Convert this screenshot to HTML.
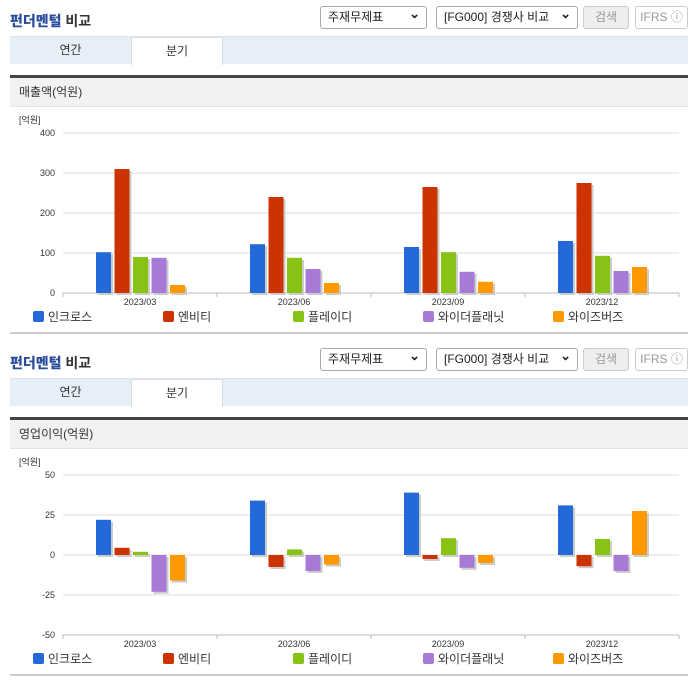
<!DOCTYPE html>
<html><head><meta charset="utf-8">
<style>
*{box-sizing:border-box;margin:0;padding:0}
body{width:696px;height:684px;background:#fff;font-family:"Liberation Sans","Noto Sans CJK KR",sans-serif;color:#333;position:relative;overflow:hidden}
.blk{position:absolute;left:0;width:696px;height:342px}
.title{position:absolute;left:10px;top:11px;font-size:14px;font-weight:bold;color:#333}
.title b{color:#2a4d9b}
.sel{position:absolute;top:6px;height:23px;border:1px solid #aaa;border-radius:3px;background:#fff;font-size:12px;line-height:21px;padding-left:7px;color:#222}
.sel:after{content:"⌄";position:absolute;right:6px;top:-4px;font-size:13px;font-weight:bold}
.btn{position:absolute;top:6px;height:23px;border:1px solid #ccc;border-radius:3px;font-size:12px;line-height:21px;text-align:center;color:#999}
.tabs{position:absolute;left:10px;top:36px;width:678px;height:28px;background:#e6eef8;border-top:1px solid #dde4ee}
.tab{position:absolute;top:0;height:28px;font-size:12px;line-height:27px;text-align:center;color:#333}
.tab.on{background:#fff;border:1px solid #d5dce6;border-bottom:none}
.hd{position:absolute;left:10px;top:75px;width:678px;height:32px;background:#f2f2f2;border-top:3px solid #444;border-bottom:1px solid #e4e4e4;font-size:12px;line-height:28px;padding-left:9px}
.foot{position:absolute;left:10px;width:678px;height:2px;background:#ccc}
svg{position:absolute;left:0;top:0}
</style></head><body>
<div class="blk" id="b1" style="top:0">
 <div class="title"><b>펀더멘털</b> 비교</div>
 <div class="sel" style="left:320px;width:107px">주재무제표</div>
 <div class="sel" style="left:436px;width:142px">[FG000] 경쟁사 비교</div>
 <div class="btn" style="left:583px;width:46px;background:#eee">검색</div>
 <div class="btn" style="left:635px;width:53px">IFRS ⓘ</div>
 <div class="tabs"><div class="tab" style="left:0;width:121px">연간</div><div class="tab on" style="left:121px;width:92px">분기</div></div>
 <div class="hd">매출액(억원)</div>
 <div class="foot" style="top:332px"></div>
</div>
<div class="blk" id="b2" style="top:342px">
 <div class="title"><b>펀더멘털</b> 비교</div>
 <div class="sel" style="left:320px;width:107px">주재무제표</div>
 <div class="sel" style="left:436px;width:142px">[FG000] 경쟁사 비교</div>
 <div class="btn" style="left:583px;width:46px;background:#eee">검색</div>
 <div class="btn" style="left:635px;width:53px">IFRS ⓘ</div>
 <div class="tabs"><div class="tab" style="left:0;width:121px">연간</div><div class="tab on" style="left:121px;width:92px">분기</div></div>
 <div class="hd">영업이익(억원)</div>
 <div class="foot" style="top:332px"></div>
</div>
<script>
const categories=["2023/03","2023/06","2023/09","2023/12"];
const seriesNames=["인크로스","엔비티","플레이디","와이더플래닛","와이즈버즈"];
const colors=["#2369d8","#cc3300","#88c214","#a87ad8","#ff9900"];
const salesInCross=[102,122,115,130];
const salesNBT=[310,240,265,275];
const salesPlayD=[90,88,102,93];
const salesWider=[88,60,53,55];
const salesWise=[20,25,28,65];
const opInCross=[22,34,39,31];
const opNBT=[4.5,-7.5,-2.5,-7];
const opPlayD=[2,3.5,10.5,10];
const opWider=[-23,-10,-8,-10];
const opWise=[-16,-6,-5,27.5];
const salesTicks=[0,100,200,300,400];
const opTicks=[-50,-25,0,25,50];
const NS="http://www.w3.org/2000/svg";
function mk(p,t,a){const e=document.createElementNS(NS,t);for(const k in a)e.setAttribute(k,a[k]);p.appendChild(e);return e;}
function draw(host,series,ticks,yTop,yBot){
 const svg=mk(host,"svg",{width:696,height:342});
 
 
 const min=ticks[0],max=ticks[ticks.length-1];
 const y=v=>yBot-(v-min)/(max-min)*(yBot-yTop);
 const x0=63,x1=679,cw=(x1-x0)/categories.length;
 const u=mk(svg,"text",{x:19,y:yTop-10,"font-size":9,fill:"#333"});u.textContent="[억원]";
 
 
 ticks.forEach(t=>{
  const g=mk(svg,"line",{x1:x0,x2:x1,y1:y(t),y2:y(t),stroke:t==min?"#bbb":"#ddd","stroke-width":1});
  
  
  const l=mk(svg,"text",{x:55,y:y(t)+3,"font-size":9,fill:"#333","text-anchor":"end"});l.textContent=t;
  
  
 });
 const z=y(Math.max(0,min));
 categories.forEach((c,i)=>{
  const cx=x0+cw*(i+0.5);
  mk(svg,"line",{x1:x0+cw*i,x2:x0+cw*i,y1:yBot,y2:yBot+4,stroke:"#bbb"});
  const l=mk(svg,"text",{x:cx,y:yBot+12,"font-size":9,fill:"#333","text-anchor":"middle"});l.textContent=c;
  
  
  series.forEach((s,j)=>{
   const v=s[i],bx=cx-44+j*18.5,top=Math.min(y(v),z),h=Math.abs(y(v)-z);
   mk(svg,"rect",{x:bx+2,y:top+2,width:15,height:h,fill:"#ccc"});
   const r=mk(svg,"rect",{x:bx,y:top,width:15,height:h,fill:colors[j]});
   
   
  });
 });
 mk(svg,"line",{x1:x1,x2:x1,y1:yBot,y2:yBot+4,stroke:"#bbb"});
 seriesNames.forEach((n,j)=>{
  const lx=33+j*130;
  const sq=mk(svg,"rect",{x:lx,y:yBot+18,width:11,height:11,rx:2,fill:colors[j]});
  
  
  const t=mk(svg,"text",{x:lx+15,y:yBot+28,"font-size":12,fill:"#333"});t.textContent=n;
  
  
 });
}
draw(document.getElementById("b1"),[salesInCross,salesNBT,salesPlayD,salesWider,salesWise],salesTicks,133,293);
draw(document.getElementById("b2"),[opInCross,opNBT,opPlayD,opWider,opWise],opTicks,133,293);
</script>
</body></html>
